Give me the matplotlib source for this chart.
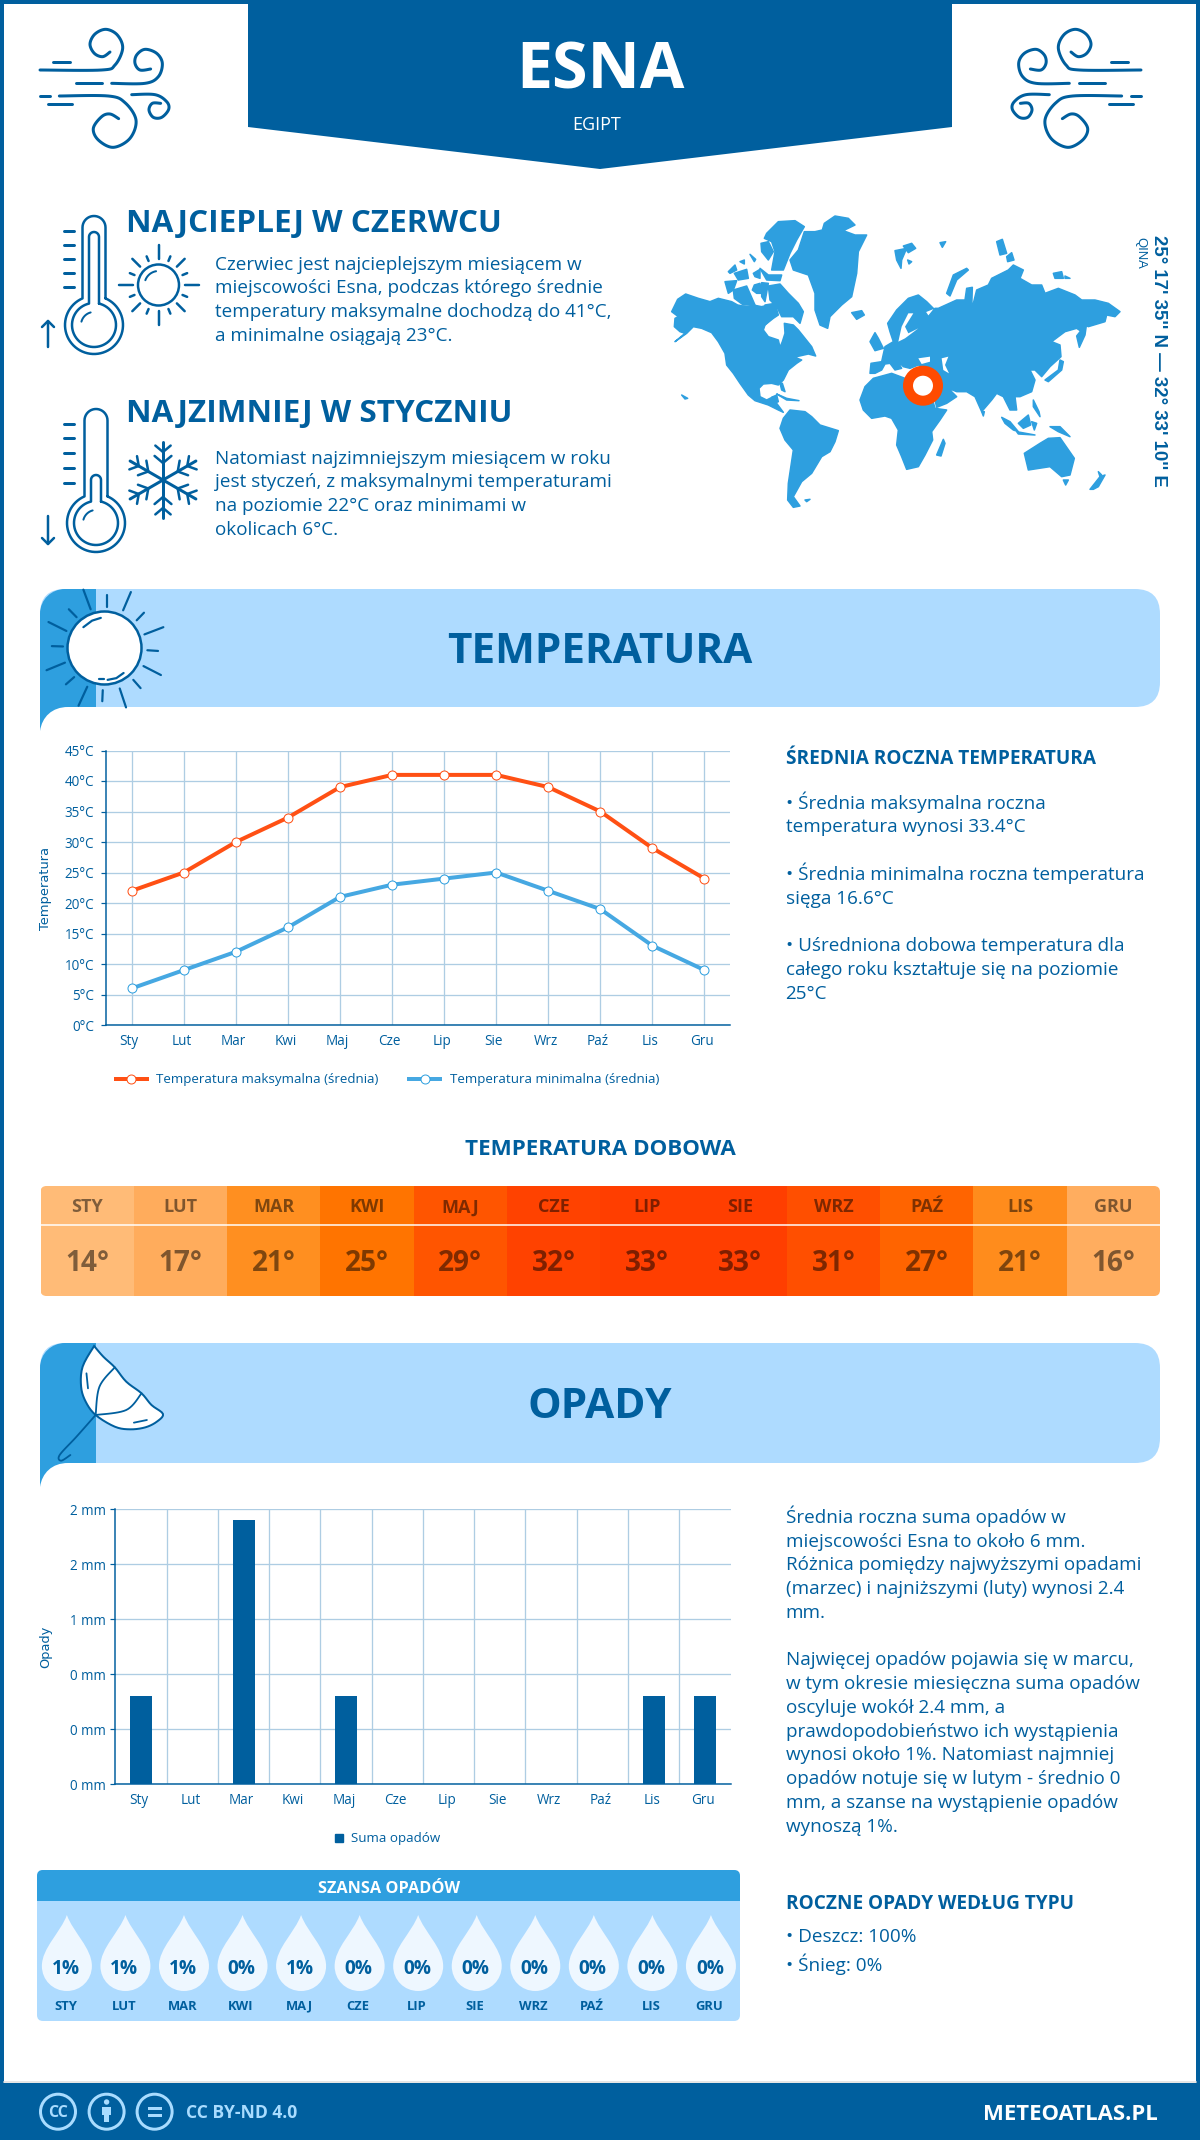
import numpy as np
import matplotlib
matplotlib.use('Agg')
import matplotlib.pyplot as plt
from matplotlib.lines import Line2D
from matplotlib.patches import Circle, Ellipse, FancyBboxPatch, PathPatch, Polygon, Rectangle
from matplotlib.path import Path
from matplotlib.transforms import ScaledTranslation

W, H = 1200, 2140
DARK = '#005f9e'
BLUE = '#2e9fdf'
LIGHT = '#aedbff'
ORANGE = '#ff5014'
GRID = '#aecde3'
plt.rcParams['font.family'] = ['Open Sans', 'DejaVu Sans']

# chart data
months = ['Sty', 'Lut', 'Mar', 'Kwi', 'Maj', 'Cze', 'Lip', 'Sie', 'Wrz', 'Paź', 'Lis', 'Gru']
months_up = [m.upper() for m in months]
temp_max = [22, 25, 30, 34, 39, 41, 41, 41, 39, 35, 29, 24]
temp_min = [6, 9, 12, 16, 21, 23, 24, 25, 22, 19, 13, 9]
temp_ticks = [0, 5, 10, 15, 20, 25, 30, 35, 40, 45]
temp_daily = [14, 17, 21, 25, 29, 32, 33, 33, 31, 27, 21, 16]
temp_colors = ['#ffbb77', '#ffac5c', '#ff8f20', '#ff7400', '#ff5500', '#ff4200',
               '#ff3e00', '#ff3e00', '#ff4f00', '#ff6400', '#ff8c1c', '#ffad5f']
rain = [0.8, 0, 2.4, 0, 0.8, 0, 0, 0, 0, 0, 0.8, 0.8]
rain_ticks = [0, 0.5, 1, 1.5, 2, 2.5]
rain_tick_labels = ['0 mm', '0 mm', '0 mm', '1 mm', '2 mm', '2 mm']
rain_chance = [1, 1, 1, 0, 1, 0, 0, 0, 0, 0, 0, 0]

# world map outlines, traced in crop pixels (3x, crop origin 665,210)
map_west = [
    [(20,305),(38,268),(62,252),(100,265),(135,275),(160,265),(200,275),(218,285),(245,290),(265,285),(290,290),(310,285),(330,310),(320,325),(300,345),(295,360),(310,380),(340,390),(345,412),(352,395),(360,370),(358,340),(385,345),(400,360),(420,385),(440,410),(452,438),(430,432),(395,440),(385,440),(410,450),(395,460),(370,480),(355,510),(340,525),(320,520),(295,522),(282,535),(285,560),(305,570),(325,560),(335,580),(355,607),(340,600),(310,585),(270,572),(250,555),(225,520),(205,490),(185,465),(180,430),(160,395),(140,368),(110,355),(85,350),(65,370),(30,395),(60,370),(45,365),(28,350),(30,325),(40,320)],
    [(375,150),(400,120),(418,65),(450,65),(472,60),(478,40),(510,18),(550,25),(570,45),(535,62),(570,75),(605,75),(580,125),(575,190),(560,260),(530,285),(495,320),(488,355),(465,345),(450,300),(450,250),(430,195),(385,180)],
    [(305,70),(340,35),(390,32),(418,50),(395,90),(375,130),(355,180),(320,180),(330,125),(320,95),(298,85)],
    [(288,100),(310,95),(325,125),(310,150),(290,125)],
    [(310,228),(345,222),(370,250),(400,280),(415,305),(405,340),(385,320),(350,320),(335,290),(315,270)],
    [(190,185),(210,165),(215,180),(195,190)], [(208,190),(245,178),(250,205),(220,210)],
    [(180,215),(215,212),(205,240),(190,250)], [(205,240),(245,228),(270,285),(235,285),(208,265)],
    [(265,190),(285,178),(285,205),(270,200)], [(285,175),(310,195),(350,195),(345,212),(305,210)],
    [(255,133),(272,148),(268,155)], [(225,155),(238,150),(238,162)],
    [(268,225),(285,220),(290,250),(275,250),(262,240)], [(290,218),(310,220),(300,275),(290,260)],
    [(300,285),(330,280),(340,315),(325,325),(300,345)], [(345,520),(352,520),(360,545),(350,540)],
    [(320,562),(335,555),(340,575),(328,580)],
    [(335,552),(365,565),(402,572),(365,570)], [(50,555),(68,565),(60,567)],
    [(345,655),(355,625),(375,600),(420,605),(440,620),(465,645),(520,662),(510,695),(495,725),(470,740),(440,790),(410,815),(385,860),(405,888),(385,892),(368,870),(370,820),(385,720),(360,690)],
    [(420,870),(435,868),(425,875)],
    [(585,570),(600,530),(625,505),(680,490),(720,505),(800,560),(810,595),(845,600),(825,630),(800,665),(803,690),(780,735),(760,770),(725,778),(710,740),(695,705),(700,660),(680,625),(660,618),(620,625),(595,600)],
    [(560,308),(590,302),(598,315),(575,328)], [(615,395),(630,368),(640,385),(655,415),(630,422)],
]
# same, crop origin 885,210
map_east = [
    [(-45,490),(-42,460),(-10,455),(0,410),(25,395),(15,365),(8,340),(35,300),(70,265),(100,255),(125,275),(145,295),(120,305),(130,320),(150,295),(160,295),(215,270),(240,270),(245,235),(262,232),(260,300),(275,240),(310,225),(320,205),(370,180),(385,165),(415,180),(405,205),(440,225),(470,225),(480,250),(520,235),(570,255),(590,270),(630,270),(670,280),(705,305),(690,320),(665,315),(660,335),(610,350),(600,345),(590,365),(575,355),(540,365),(500,395),(525,405),(528,440),(495,470),(470,500),(450,480),(435,480),(450,510),(440,545),(405,560),(390,560),(395,600),(375,600),(355,560),(335,550),(320,570),(290,605),(270,560),(245,545),(215,545),(190,535),(215,560),(185,580),(155,592),(150,570),(165,530),(110,470),(100,465),(75,475),(55,470),(35,450),(50,475),(30,480),(15,460),(0,462),(-10,480),(-30,490)],
    [(30,122),(65,115),(50,150),(48,175),(35,150)], [(55,108),(80,100),(92,115),(70,128)], [(68,150),(80,155),(72,162)],
    [(165,98),(182,95),(172,112)], [(185,250),(205,195),(245,175),(250,180),(215,210),(195,258)],
    [(335,95),(352,88),(365,130),(345,135)], [(365,140),(380,128),(387,150),(368,155)],
    [(505,190),(530,185),(535,205),(510,205)], [(540,198),(555,205),(540,205)],
    [(575,378),(605,340),(600,375),(583,412)], [(480,510),(520,480),(525,450),(535,455),(530,480),(490,515)],
    [(290,605),(298,605),(295,618)], [(155,735),(175,688),(180,700),(168,738)],
    [(350,622),(375,635),(400,665),(385,660),(360,640)], [(395,665),(450,675),(400,672)],
    [(400,640),(430,615),(437,645),(415,655)], [(440,635),(455,640),(448,660)],
    [(445,570),(462,605),(465,620),(445,590)], [(495,650),(525,650),(555,680),(520,665)],
    [(418,730),(465,700),(490,685),(525,683),(568,745),(555,795),(530,800),(495,770),(430,780)],
    [(535,810),(550,810),(542,825)], [(615,838),(645,800),(660,795),(640,830),(625,838)], [(640,785),(650,795),(645,800)],
]
map_water = [
    [(100,445),(135,440),(135,455),(110,462)], [(170,445),(190,440),(180,465),(192,490),(175,480)],
    [(70,310),(85,310),(60,350),(70,370),(100,355),(60,385),(40,395),(50,350)],
]

fig = plt.figure(figsize=(W / 100, H / 100), dpi=100, facecolor='white')
bg = fig.add_axes([0, 0, 1, 1])
bg.set_xlim(0, W)
bg.set_ylim(H, 0)
bg.axis('off')


def pt(px):
    return px * 0.72


def box(left, top, right, bottom):
    return [left / W, 1 - bottom / H, (right - left) / W, (bottom - top) / H]


def label(x, y, s, size, weight='normal', ha='left', color=DARK, **kw):
    # y is the middle of the capitals
    bg.text(x, y + 0.357 * size, s, fontsize=pt(size), fontweight=weight, ha=ha, va='baseline',
            color=color, **kw)


def line(xs, ys, lw=2.5, color=DARK):
    bg.plot(xs, ys, color=color, lw=pt(lw), solid_capstyle='round', solid_joinstyle='round')


def smooth(pts, n=12):
    # Catmull-Rom through the given points
    p = np.array(pts, dtype=float)
    p = np.vstack([p[0], p, p[-1]])
    out = []
    for i in range(1, len(p) - 2):
        t = np.linspace(0, 1, n)[:, None]
        out.append(0.5 * (2 * p[i] + (p[i + 1] - p[i - 1]) * t
                          + (2 * p[i - 1] - 5 * p[i] + 4 * p[i + 1] - p[i + 2]) * t ** 2
                          + (3 * p[i] - p[i - 1] - 3 * p[i + 1] + p[i + 2]) * t ** 3))
    return np.vstack(out)


def wind(fx):
    curls = [
        [(30,150),(215,150),(255,135),(278,85),(262,45),(228,28),(195,42),(180,72),(193,100),(218,110),(240,96)],
        [(245,190),(345,190),(385,170),(397,130),(380,100),(345,88),(320,105),(315,130),(330,150),(362,147)],
        [(88,228),(235,228),(285,248),(318,300),(300,355),(250,382),(205,360),(190,325),(215,290),(240,282),(266,296)],
        [(305,224),(375,224),(410,245),(416,268),(395,292),(370,292),(357,270),(367,250),(392,250)],
    ]
    dashes = [[(68,125),(120,125)], [(138,190),(215,190)], [(30,228),(60,228)], [(55,252),(125,252)]]
    for c in curls:
        q = smooth(c)
        line(fx(30 + q[:, 0] / 3), 20 + q[:, 1] / 3, 3)
    for d in dashes:
        q = np.array(d)
        line(fx(30 + q[:, 0] / 3), 20 + q[:, 1] / 3, 3)


def thermometer(cx, top, cy, inner_top, tick_ys, arrow_y, up):
    for hw, r, t in [(11.5, 29, top), (5, 22, inner_top)]:
        a0 = np.arcsin(hw / r)
        ang = np.linspace(a0, 2 * np.pi - a0, 60)
        arc_t = np.linspace(0, np.pi, 20)
        xs = np.r_[cx + r * np.sin(ang), cx - hw * np.cos(arc_t)]
        ys = np.r_[cy - r * np.cos(ang), t + hw - hw * np.sin(arc_t)]
        line(np.r_[xs, xs[0]], np.r_[ys, ys[0]], 2.5)
    ang = np.radians(np.linspace(-75, -15, 12))
    line(cx + 13 * np.sin(ang), cy - 13 * np.cos(ang), 2)
    for y in tick_ys:
        line([64, 74], [y, y], 3)
    tip, tail = (arrow_y[0], arrow_y[1]) if up else (arrow_y[1], arrow_y[0])
    d = 6 if up else -6
    line([48, 48], [tail, tip], 2.5)
    line([42, 48, 54], [tip + d, tip, tip + d], 2.5)


def section(top, bottom, tail, title):
    bg.add_patch(FancyBboxPatch((65, top + 25), 1070, bottom - top - 50, boxstyle='round,pad=25,rounding_size=25',
                                fc=LIGHT, ec='none', mutation_aspect=1))
    verts = [(40, tail), (40, top + 25), (40, top + 10), (52, top), (65, top), (96, top), (96, bottom),
             (68, bottom), (52, bottom), (42, bottom + 10), (40, tail), (40, tail)]
    codes = [Path.MOVETO, Path.LINETO, Path.CURVE4, Path.CURVE4, Path.CURVE4, Path.LINETO, Path.LINETO,
             Path.LINETO, Path.CURVE4, Path.CURVE4, Path.CURVE4, Path.CLOSEPOLY]
    bg.add_patch(PathPatch(Path(verts, codes), fc=BLUE, ec='none'))
    label(600, (top + bottom) / 2, title, 42.3, 'bold', 'center')


# frame and header
bg.add_patch(Rectangle((0, 0), W, H, fc='none', ec=DARK, lw=pt(8)))
bg.add_patch(Polygon([(248, 0), (952, 0), (952, 127), (600, 169), (248, 127)], fc=DARK, ec='none'))
label(600, 65.5, 'ESNA', 64.5, 'bold', 'center', 'white')
label(597, 124, 'EGIPT', 18, 'normal', 'center', 'white')
wind(lambda x: x)
wind(lambda x: 1181 - x)

# hottest and coldest month
label(126, 221, 'NAJCIEPLEJ W CZERWCU', 31.5, 'bold')
for y, s in zip([263, 286, 310, 334], ['Czerwiec jest najcieplejszym miesiącem w',
                                       'miejscowości Esna, podczas którego średnie',
                                       'temperatury maksymalne dochodzą do 41°C,',
                                       'a minimalne osiągają 23°C.']):
    label(215, y, s, 18.9)
label(126, 411, 'NAJZIMNIEJ W STYCZNIU', 31.5, 'bold')
for y, s in zip([457, 480, 504, 528], ['Natomiast najzimniejszym miesiącem w roku',
                                       'jest styczeń, z maksymalnymi temperaturami',
                                       'na poziomie 22°C oraz minimami w',
                                       'okolicach 6°C.']):
    label(215, y, s, 18.9)

thermometer(94, 216, 325, 232, [231, 245, 259, 273, 287], (321, 347), True)
thermometer(96, 409, 523, 475, [424, 438, 453, 468, 483], (516, 544), False)

# small sun
bg.add_patch(Circle((158.5, 285), 20.5, fc='none', ec=DARK, lw=pt(2.5)))
ang = np.radians(np.linspace(-70, -10, 10))
line(158.5 + 14 * np.sin(ang), 285 - 14 * np.cos(ang), 2)
for i in range(16):
    a = np.radians(i * 22.5)
    r1, r2 = (26, 40) if i % 4 == 0 else ((26, 37) if i % 2 == 0 else (26, 31))
    line([158.5 + r1 * np.sin(a), 158.5 + r2 * np.sin(a)], [285 - r1 * np.cos(a), 285 - r2 * np.cos(a)], 2.5)

# snowflake
for i in range(6):
    a = np.radians(i * 60)
    u, v = np.sin(a), -np.cos(a)
    line([163, 163 + 38 * u], [480, 480 + 38 * v], 3)
    for r, b in [(17, 11), (28, 10)]:
        for s in (-1, 1):
            a2 = a + s * np.radians(50)
            bx, by = 163 + r * u, 480 + r * v
            line([bx, bx + b * np.sin(a2)], [by, by - b * np.cos(a2)], 2.5)

# world map
for land in map_west:
    q = np.array(land, dtype=float)
    bg.add_patch(Polygon(np.c_[665 + q[:, 0] / 3, 210 + q[:, 1] / 3], fc=BLUE, ec=BLUE, lw=pt(1.5), joinstyle='round'))
for land in map_east:
    q = np.array(land, dtype=float)
    bg.add_patch(Polygon(np.c_[885 + q[:, 0] / 3, 210 + q[:, 1] / 3], fc=BLUE, ec=BLUE, lw=pt(1.5), joinstyle='round'))
for water in map_water:
    q = np.array(water, dtype=float)
    bg.add_patch(Polygon(np.c_[885 + q[:, 0] / 3, 210 + q[:, 1] / 3], fc='white', ec='none'))
bg.add_patch(Circle((923, 385.7), 15, fc='white', ec='#ff4b00', lw=pt(10)))
bg.text(1154, 235, "25° 17' 35'' N — 32° 33' 10'' E", fontsize=pt(18.7), fontweight='bold', family='Liberation Sans',
        color=DARK, rotation=270, rotation_mode='anchor', ha='left', va='baseline')
bg.text(1137, 237, 'QINA', fontsize=pt(13), family='Liberation Sans', color=DARK,
        rotation=270, rotation_mode='anchor', ha='left', va='baseline')

# temperature section
section(589, 707, 731, 'TEMPERATURA')


def zsun(x, y):
    return np.array(x) / 2.063, 580 + np.array(y) / 2.904


bg.add_patch(Ellipse((104.5, 648), 74, 73, fc='white', ec=DARK, lw=pt(2.5)))
for seg in [((172,187),(28,85)), ((221,221),(45,78)), ((270,254),(35,88)), ((297,282),(95,117)),
            ((337,298),(137,158)), ((326,304),(206,204)), ((332,296),(276,250)), ((290,275),(314,290)),
            ((247,260),(315,370)), ((212,211),(320,352)), ((180,162),(310,365)), ((153,136),(282,303)),
            ((134,96),(240,262)), ((130,107),(193,192)), ((137,100),(148,122)), ((158,142),(108,85)),
            ((172,190,208),(137,118,110)), ((222,240,255),(290,285,270)), ((205,215),(288,288))]:
    line(*zsun(*seg), 2.2)

ax = fig.add_axes(box(105.7, 750.5, 730.5, 1025), facecolor='none')
x = np.arange(12)
ax.plot(x, temp_max, color=ORANGE, lw=pt(4), marker='o', ms=pt(9), mfc='white', mec=ORANGE, mew=pt(1),
        label='Temperatura maksymalna (średnia)', zorder=3, clip_on=False)
ax.plot(x, temp_min, color='#46a8e2', lw=pt(4), marker='o', ms=pt(9), mfc='white', mec=BLUE, mew=pt(1),
        label='Temperatura minimalna (średnia)', zorder=3, clip_on=False)
ax.set_xlim(-0.5, 11.5)
ax.set_ylim(0, 45)
ax.set_yticks(temp_ticks)
ax.set_yticklabels([f'{t}°C' for t in temp_ticks])
ax.set_xticks(x)
ax.set_xticklabels(months)
ax.set_ylabel('Temperatura', family='DejaVu Sans', fontsize=pt(13), color=DARK)
ax.yaxis.set_label_coords(52 / W, 1 - 889 / H, transform=fig.transFigure)
ax.set_axisbelow(True)
ax.grid(color=GRID, lw=pt(1.3))
ax.tick_params(axis='y', length=pt(5.3), width=pt(1.2), color=DARK, pad=pt(6), labelcolor=DARK, labelsize=pt(13.5))
ax.tick_params(axis='x', length=0, pad=pt(9), labelcolor=DARK, labelsize=pt(13.5))
for t in ax.get_xticklabels():
    t.set_transform(t.get_transform() + ScaledTranslation(-2.5 / 100, 0, fig.dpi_scale_trans))
for side in ('top', 'right'):
    ax.spines[side].set_visible(False)
for side in ('left', 'bottom'):
    ax.spines[side].set_color(DARK)
    ax.spines[side].set_linewidth(pt(1.5))
ax.legend(loc='center', bbox_to_anchor=(387.5 / W, 1 - 1080 / H), bbox_transform=fig.transFigure, ncol=2, frameon=False,
          fontsize=pt(13.4), labelcolor=DARK, handlelength=2.3, handletextpad=0.7, columnspacing=2.3, numpoints=1)

label(785.5, 757, 'ŚREDNIA ROCZNA TEMPERATURA', 19, 'bold')
for y, s in zip([802.3, 825.7, 873.3, 897.3, 944, 968.7, 992.7],
                ['• Średnia maksymalna roczna', 'temperatura wynosi 33.4°C', '• Średnia minimalna roczna temperatura',
                 'sięga 16.6°C', '• Uśredniona dobowa temperatura dla', 'całego roku kształtuje się na poziomie', '25°C']):
    label(785.5, y, s, 18.9)

# daily temperature strip
label(600, 1147, 'TEMPERATURA DOBOWA', 22.4, 'bold', 'center')
ax = fig.add_axes(box(40.5, 1186, 1160, 1296), facecolor='none')
ax.set_xlim(-0.5, 11.5)
ax.set_ylim(1296, 1186)
ax.axis('off')
clip = FancyBboxPatch((46.5, 1192), 1107.5, 98, boxstyle='round,pad=6,rounding_size=6', fc='none', ec='none')
bg.add_patch(clip)
bars = ax.bar(x, [110] * 12, width=1, bottom=1186, color=temp_colors, lw=0)
for b in bars:
    b.set_clip_path(clip)
ax.axhline(1225, color='white', lw=pt(1.5))
for i in x:
    ax.text(i, 1206 + 6.4, months_up[i], fontsize=pt(18), fontweight='bold', color='black', alpha=0.5, ha='center', va='baseline')
    ax.text(i, 1261 + 10, f'{temp_daily[i]}°', fontsize=pt(28), fontweight='bold', color='black', alpha=0.5, ha='center', va='baseline')

# rain section
section(1343, 1463, 1487, 'OPADY')


def zumb(x, y):
    return np.array(x) / 1.307, 1130 + np.array(y) / 3


q = smooth([(123,648),(135,680),(150,712),(165,755),(185,790),(198,825),(213,852),(205,875),(190,892),(170,898),
            (150,890),(125,855),(112,815),(106,770),(108,710),(123,648)], 6)
ux, uy = zumb(q[:, 0], q[:, 1])
bg.fill(ux, uy, fc='white', ec=DARK, lw=pt(2))
for c in ([(150,712),(130,770),(125,855)], [(185,790),(165,840),(125,855)], [(125,855),(100,920),(78,975),(80,992),(92,975)],
          [(113,730),(115,775)], [(175,878),(192,870)]):
    q = smooth(c)
    line(*zumb(q[:, 0], q[:, 1]), 1.8)

ax = fig.add_axes(box(115.4, 1509.3, 730.5, 1784.3), facecolor='none')
ax.bar(x, rain, width=0.43, color=DARK, label='Suma opadów', zorder=3)
ax.set_xlim(-0.5, 11.5)
ax.set_ylim(0, 2.5)
ax.set_yticks(rain_ticks)
ax.set_yticklabels(rain_tick_labels)
ax.set_xticks(x)
ax.set_xticklabels(months)
ax.set_xticks(x[:-1] + 0.5, minor=True)
ax.set_ylabel('Opady', family='DejaVu Sans', fontsize=pt(13), color=DARK)
ax.yaxis.set_label_coords(52 / W, 1 - 1647 / H, transform=fig.transFigure)
ax.set_axisbelow(True)
ax.grid(axis='y', color=GRID, lw=pt(1.3))
ax.grid(axis='x', which='minor', color=GRID, lw=pt(1.3))
ax.tick_params(axis='y', length=pt(4.8), width=pt(1.2), color=DARK, pad=pt(5), labelcolor=DARK, labelsize=pt(13.5))
ax.tick_params(axis='x', which='both', length=0, pad=pt(9), labelcolor=DARK, labelsize=pt(13.5))
for t in ax.get_xticklabels():
    t.set_transform(t.get_transform() + ScaledTranslation(-2 / 100, 0, fig.dpi_scale_trans))
for side in ('top', 'right'):
    ax.spines[side].set_visible(False)
for side in ('left', 'bottom'):
    ax.spines[side].set_color(DARK)
    ax.spines[side].set_linewidth(pt(1.5))
hnd = Line2D([], [], ls='none', marker='s', ms=pt(8), color=DARK, label='Suma opadów')
ax.legend(handles=[hnd], loc='center', bbox_to_anchor=(387.5 / W, 1 - 1838.7 / H), bbox_transform=fig.transFigure,
          frameon=False, fontsize=pt(13.4), labelcolor=DARK, handlelength=0.6, handletextpad=0.6)

for y, s in zip([1516.7, 1540, 1563.3, 1587.3, 1611.7, 1658.3, 1682.7, 1706.7, 1730, 1753.3, 1777.7, 1801.7, 1825],
                ['Średnia roczna suma opadów w', 'miejscowości Esna to około 6 mm.', 'Różnica pomiędzy najwyższymi opadami',
                 '(marzec) i najniższymi (luty) wynosi 2.4', 'mm.', 'Najwięcej opadów pojawia się w marcu,',
                 'w tym okresie miesięczna suma opadów', 'oscyluje wokół 2.4 mm, a', 'prawdopodobieństwo ich wystąpienia',
                 'wynosi około 1%. Natomiast najmniej', 'opadów notuje się w lutym - średnio 0',
                 'mm, a szanse na wystąpienie opadów', 'wynoszą 1%.']):
    label(785.5, y, s, 18.9)
label(785.5, 1902, 'ROCZNE OPADY WEDŁUG TYPU', 19, 'bold')
label(785.5, 1935, '• Deszcz: 100%', 18.9)
label(785.5, 1964, '• Śnieg: 0%', 18.9)

# chance of rain panel
bg.add_patch(FancyBboxPatch((43, 1876), 691, 139, boxstyle='round,pad=6,rounding_size=6', fc=LIGHT, ec='none'))
clip2 = Rectangle((37, 1870), 703, 31, fc='none', ec='none')
bg.add_patch(clip2)
hd = FancyBboxPatch((43, 1876), 691, 139, boxstyle='round,pad=6,rounding_size=6', fc=BLUE, ec='none')
bg.add_patch(hd)
hd.set_clip_path(clip2)
label(389, 1887, 'SZANSA OPADÓW', 16.3, 'bold', 'center', 'white')
for i, v in enumerate(rain_chance):
    cx = 37.6 + (i + 0.5) * 58.55
    verts = [(cx, 1915), (cx + 6, 1932), (cx + 25, 1948), (cx + 25, 1966), (cx + 25, 1980), (cx + 14, 1991), (cx, 1991),
             (cx - 14, 1991), (cx - 25, 1980), (cx - 25, 1966), (cx - 25, 1948), (cx - 6, 1932), (cx, 1915)]
    codes = [Path.MOVETO] + [Path.CURVE4] * 12
    bg.add_patch(PathPatch(Path(verts, codes), fc='#eef7ff', ec='none'))
    label(cx - 1, 1967, f'{v}%', 19, 'bold', 'center')
    label(cx - 1.5, 2005, months_up[i], 13, 'bold', 'center')

# footer
bg.add_patch(Rectangle((0, 2083), W, 57, fc=DARK, ec='none'))
bg.plot([4, 1196], [2082, 2082], color='#dddddd', lw=pt(1.5))
FOOT = '#a9dcff'
for cx in (58, 106.6, 154.6):
    bg.add_patch(Circle((cx, 2111.7), 17.5, fc='none', ec=FOOT, lw=pt(3)))
label(58, 2111.7, 'CC', 16, 'bold', 'center', FOOT)
bg.add_patch(Circle((106.6, 2102), 2.7, fc=FOOT, ec='none'))
bg.add_patch(Rectangle((102, 2106.5), 9.2, 8, fc=FOOT, ec='none'))
bg.add_patch(Rectangle((103.8, 2114), 5.6, 8, fc=FOOT, ec='none'))
bg.add_patch(Rectangle((147.5, 2106.5), 14, 3, fc=FOOT, ec='none'))
bg.add_patch(Rectangle((147.5, 2113.5), 14, 3, fc=FOOT, ec='none'))
label(185.6, 2112, 'CC BY-ND 4.0', 17.5, 'bold', 'left', FOOT)
label(1158, 2112, 'METEOATLAS.PL', 22.2, 'bold', 'right', 'white')

fig.savefig('out.png', dpi=100, facecolor='white')
